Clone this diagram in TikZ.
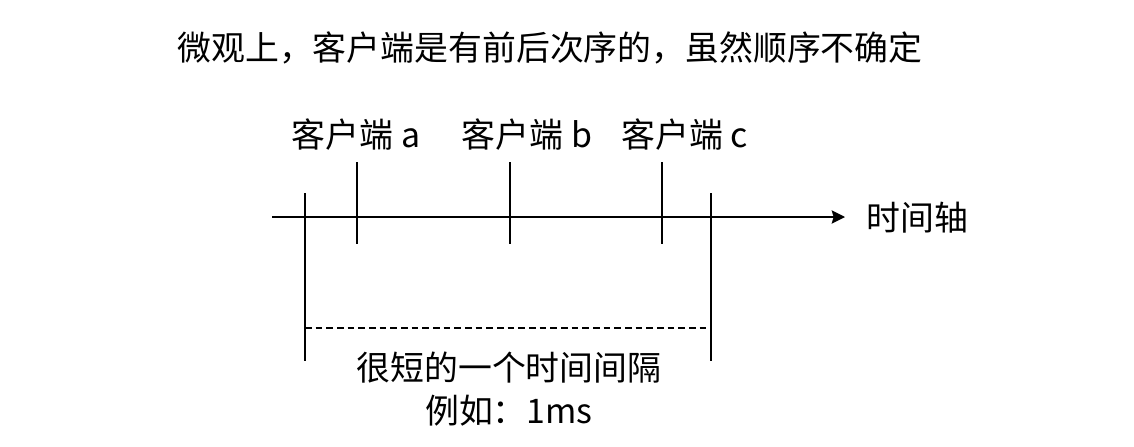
\documentclass[tikz,border=0pt]{standalone}
\usepackage{fontspec}
\setmainfont{Noto Sans CJK SC}
\usetikzlibrary{positioning,arrows.meta}

\begin{document}
\begin{tikzpicture}[
    x=0.75pt, y=-0.75pt,
    font=\fontsize{25.4}{30}\selectfont,
    txt/.style={inner sep=0pt, align=center},
    tick/.style={line width=1.3pt},
    axis/.style={line width=1.3pt, -{Stealth[length=10pt, width=10pt, inset=1.5pt]}},
    span/.style={line width=1pt, dash pattern=on 5pt off 3pt},
  ]
  \useasboundingbox (0,0) rectangle (1134,446);

  % ===== texts =====
  \node[txt] (title) at (550,48) {微观上，客户端是有前后次序的，虽然顺序不确定};
  \node[txt] (ca) at (356,135) {客户端 a};
  \node[txt] (cb) at (527,135) {客户端 b};
  \node[txt] (cc) at (685,135) {客户端 c};
  \node[txt, anchor=west] (axlbl) at (866,218) {时间轴};
  \node[txt] (gap) at (509,368) {很短的一个时间间隔};
  \node[txt, below=8pt of gap.south, anchor=north] (eg) {例如：1ms};

  % ===== time axis =====
  \coordinate (ax0) at (272,217);
  \coordinate (ax1) at (845,217);
  \draw[axis] (ax0) -- (ax1);

  % ===== client ticks =====
  \foreach \n/\x in {a/357, b/510, c/662} {
    \coordinate (t\n0) at (\x,162);
    \coordinate (t\n1) at (\x,244);
    \draw[tick] (t\n0) -- (t\n1);
  }

  % ===== interval bounds =====
  \foreach \n/\x in {l/305, r/711} {
    \coordinate (b\n0) at (\x,193);
    \coordinate (b\n1) at (\x,361);
    \draw[tick] (b\n0) -- (b\n1);
  }
  \coordinate (dl) at (305,328);
  \coordinate (dr) at (711,328);
  \draw[span] (dl) -- (dr);

\end{tikzpicture}
\end{document}
